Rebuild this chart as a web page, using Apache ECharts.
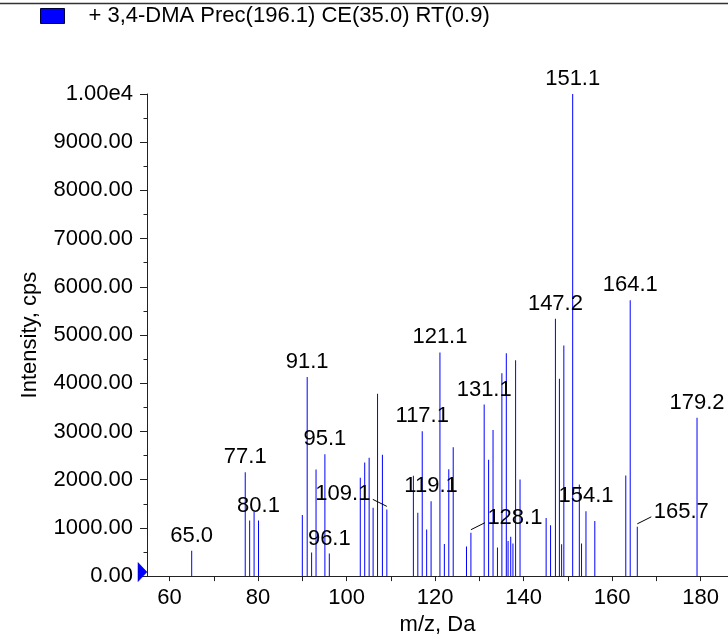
<!DOCTYPE html>
<html>
<head>
<meta charset="utf-8">
<script src="https://cdn.jsdelivr.net/npm/echarts@6/dist/echarts.min.js"></script>
<style>
html,body{margin:0;padding:0;background:#fff;}
#chart{width:728px;height:641px;}
</style>
</head>
<body>
<div id="chart"></div>
<script>
const seriesName = '+ 3,4-DMA Prec(196.1) CE(35.0) RT(0.9)';
const mz = [65.0, 77.1, 78.1, 79.1, 80.1, 90.0, 91.1, 92.1, 93.1, 95.1, 96.1,
  103.1, 104.1, 105.1, 106.0, 107.0, 108.1, 109.1, 115.1, 116.1, 117.1, 118.1, 119.1,
  121.1, 122.1, 123.1, 124.1, 127.1, 128.1, 131.1, 132.1, 133.1, 134.1, 135.1, 136.1,
  136.5, 137.1, 137.6, 138.2, 139.2, 145.1, 146.1, 147.2, 148.1, 148.6, 149.1, 151.1,
  152.6, 153.1, 154.1, 156.1, 163.1, 164.1, 165.7, 179.2];
const intensity = [525, 2153, 1152, 1335, 1152, 1268, 4131, 491, 2209, 2530, 470,
  2038, 2358, 2454, 1417, 3783, 2515, 1384, 2080, 1315, 3006, 967, 1554,
  4640, 668, 2215, 2672, 613, 900, 3558, 2413, 3033, 593, 4206, 4622,
  730, 818, 675, 4479, 2004, 1207, 1057, 5337, 4096, 661, 4785, 10000,
  1902, 675, 1343, 1145, 2086, 5720, 1022, 3286];
const labeledPeaks = [65.0, 77.1, 80.1, 91.1, 95.1, 96.1, 109.1, 117.1, 119.1, 121.1,
  128.1, 131.1, 147.2, 151.1, 154.1, 164.1, 165.7, 179.2];
const leaderPeaks = [109.1, 128.1, 165.7];
const leaderSides = [-1, 1, 1];
const xTickValues = [60, 70, 80, 90, 100, 110, 120, 130, 140, 150, 160, 170, 180];
const xLabelValues = [60, 80, 100, 120, 140, 160, 180];
const xMin = 54.9, xMax = 186.2;
const yMin = 0, yMax = 10000, yStep = 1000;

const FONT = 'Liberation Sans, Arial, sans-serif';
const chart = echarts.init(document.getElementById('chart'), null, {renderer: 'canvas'});

const barData = mz.map((m, i) => {
  const item = {value: [m, intensity[i]]};
  const li = labeledPeaks.indexOf(m);
  if (li >= 0) {
    const lj = leaderPeaks.indexOf(m);
    item.label = {show: true, offset: [lj >= 0 ? leaderSides[lj] * 44 : 0, 0]};
  }
  return item;
});
const leaderData = leaderPeaks.map((m, k) => [m, intensity[mz.indexOf(m)], leaderSides[k]]);

const option = {
  animation: false,
  backgroundColor: '#fff',
  textStyle: {fontFamily: FONT},
  legend: {
    data: [seriesName],
    left: 40, top: 5, padding: 0,
    icon: 'rect',
    itemWidth: 24, itemHeight: 15,
    itemStyle: {color: '#0000ff', borderColor: '#00003a', borderWidth: 1},
    textStyle: {fontSize: 22, color: '#000', fontFamily: FONT, padding: [0, 0, 0, 19]},
    selectedMode: false
  },
  grid: {left: 147, top: 94, right: 0, bottom: 58},
  xAxis: {
    type: 'value', min: xMin, max: xMax,
    name: 'm/z, Da', nameLocation: 'middle', nameGap: 36,
    nameTextStyle: {fontSize: 22, color: '#000', fontFamily: FONT},
    axisLine: {show: true, onZero: false, lineStyle: {color: '#222', width: 1}},
    axisTick: {show: true, length: 5, customValues: xTickValues, lineStyle: {color: '#222'}},
    axisLabel: {show: true, customValues: xLabelValues, fontSize: 22, color: '#000', margin: 11, fontFamily: FONT},
    splitLine: {show: false}
  },
  yAxis: {
    type: 'value', min: yMin, max: yMax, interval: yStep,
    name: 'Intensity, cps', nameLocation: 'middle', nameGap: 106,
    nameTextStyle: {fontSize: 22, color: '#000', fontFamily: FONT},
    axisLine: {show: true, lineStyle: {color: '#222', width: 1}},
    axisTick: {show: true, length: 7, lineStyle: {color: '#222'}},
    minorTick: {show: true, splitNumber: 2, length: 3.5, lineStyle: {color: '#222'}},
    axisLabel: {
      show: true, fontSize: 22, color: '#000', margin: 14, fontFamily: FONT,
      formatter: v => (v >= 10000 ? (v / 10000).toFixed(2) + 'e4' : v.toFixed(2))
    },
    splitLine: {show: false},
    minorSplitLine: {show: false}
  },
  series: [
    {
      name: seriesName,
      type: 'bar',
      barWidth: 1,
      itemStyle: {color: '#0000ff'},
      label: {
        show: false, position: 'top', distance: 4,
        fontSize: 22, color: '#000', fontFamily: FONT,
        formatter: p => p.value[0].toFixed(1)
      },
      emphasis: {disabled: true},
      data: barData,
      z: 2
    },
    {
      name: 'leaders',
      type: 'custom',
      silent: true,
      encode: {x: 0, y: 1},
      renderItem: (params, api) => {
        const p = api.coord([api.value(0), api.value(1)]);
        const s = api.value(2);
        return {
          type: 'line',
          shape: {x1: p[0], y1: p[1] - 3, x2: p[0] + s * 14, y2: p[1] - 10},
          style: {stroke: '#000', lineWidth: 1}
        };
      },
      data: leaderData,
      z: 3
    }
  ]
};
chart.setOption(option);

const o = chart.convertToPixel({xAxisIndex: 0, yAxisIndex: 0}, [xMin, yMin]);
chart.setOption({
  graphic: [
    {type: 'line', shape: {x1: 0, y1: 3.5, x2: 728, y2: 3.5}, style: {stroke: '#333', lineWidth: 1.5}, silent: true},
    {type: 'polygon', shape: {points: [[o[0] - 9, o[1] - 13.5], [o[0], o[1] - 4], [o[0] - 9, o[1] + 5.5]]},
     style: {fill: '#0000ff', stroke: '#00008a', lineWidth: 0.5}, silent: true, z: 10}
  ]
});
</script>
</body>
</html>
